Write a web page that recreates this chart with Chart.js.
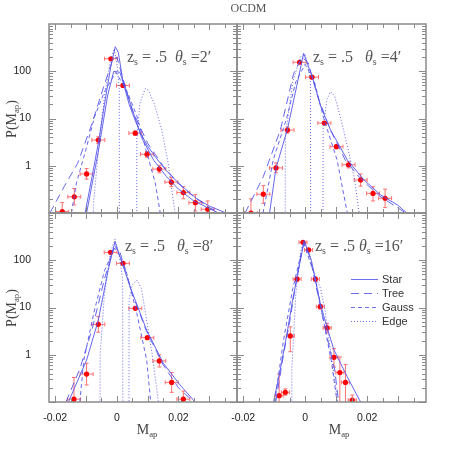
<!DOCTYPE html>
<html>
<head>
<meta charset="utf-8">
<script src="https://cdn.jsdelivr.net/npm/chart.js@4.4.1/dist/chart.umd.min.js"></script>
<style>
body { margin: 0; background: #fff; }
#wrap { position: relative; width: 450px; height: 450px; overflow: hidden; }
canvas { position: absolute; left: 0; top: 0; }
.t { position: absolute; font-family: "Liberation Serif", serif; color: #444; white-space: nowrap; line-height: 1; }
.t sub { font-size: 62%; vertical-align: -0.3em; line-height: 0; }
.ylab { transform: translate(-50%, -50%) rotate(-90deg); font-size: 14px; }
.xlab { transform: translateX(-50%); font-size: 14px; }
.ann { font-size: 16px; color: #555; }
.leg { position: absolute; font-family: "Liberation Sans", sans-serif; font-size: 11px; color: #333; }
</style>
</head>
<body>
<div id="wrap">
  <canvas id="c2" width="450" height="450"></canvas>
  <canvas id="c4" width="450" height="450"></canvas>
  <canvas id="c8" width="450" height="450"></canvas>
  <canvas id="c16" width="450" height="450"></canvas>

  <div class="t" style="left:0;width:497px;text-align:center;top:2px;font-size:12px;color:#555">OCDM</div>
  <div class="t ylab" style="left:12px;top:119px">P(M<sub>ap</sub>)</div>
  <div class="t ylab" style="left:12px;top:308px">P(M<sub>ap</sub>)</div>
  <div class="t xlab" style="left:147px;top:423px">M<sub>ap</sub></div>
  <div class="t xlab" style="left:339px;top:423px">M<sub>ap</sub></div>

  <div class="t ann" style="left:127px;top:49px">z<sub>s</sub> = .5 &nbsp;<i>θ</i><sub>s</sub> =2′</div>
  <div class="t ann" style="left:313px;top:49px">z<sub>s</sub> = .5 &nbsp;&nbsp;<i>θ</i><sub>s</sub> =4′</div>
  <div class="t ann" style="left:125px;top:238px">z<sub>s</sub> = .5 &nbsp;&nbsp;<i>θ</i><sub>s</sub> =8′</div>
  <div class="t ann" style="left:315px;top:238px">z<sub>s</sub> = .5 <i>θ</i><sub>s</sub> =16′</div>

  <svg style="position:absolute;left:351px;top:272px" width="30" height="56">
    <g stroke="rgb(110,110,240)" stroke-width="1">
      <line x1="0" y1="7.5" x2="27" y2="7.5"/>
      <line x1="0" y1="21.5" x2="27" y2="21.5" stroke-dasharray="8,5"/>
      <line x1="0" y1="35.5" x2="27" y2="35.5" stroke-dasharray="4,3"/>
      <line x1="0" y1="49.5" x2="27" y2="49.5" stroke-dasharray="1,2"/>
    </g>
  </svg>
  <div class="leg" style="left:382px;top:273px">Star</div>
  <div class="leg" style="left:382px;top:287px">Tree</div>
  <div class="leg" style="left:382px;top:301px">Gauss</div>
  <div class="leg" style="left:382px;top:315px">Edge</div>
</div>
<script>
// axis ranges and tick labels
const xMin = -0.022, xMax = 0.039;
const yMin = 0.1, yMax = 1000;
const xTickVals = [-0.02, 0, 0.02];
const xTickText = ['-0.02', '0', '0.02'];
const yTickVals = [1, 10, 100];
const yTickText = ['1', '10', '100'];

// theta_s = 2'
const star2X = [-0.0103, -0.008, -0.006, -0.004, -0.002, -0.0005, 0.0005, 0.002, 0.004, 0.006, 0.008, 0.010, 0.013, 0.016, 0.019, 0.022, 0.026, 0.030, 0.0355];
const star2Y = [0.1, 0.6, 3, 20, 120, 330, 250, 60, 20, 9, 4.5, 2.6, 1.4, 0.8, 0.5, 0.33, 0.2, 0.14, 0.1];
const starb2X = [-0.0098, -0.006, -0.003, -0.001, 0.001, 0.004, 0.008, 0.012, 0.016, 0.020, 0.025, 0.033];
const starb2Y = [0.1, 2, 30, 100, 95, 25, 4, 1.3, 0.6, 0.32, 0.18, 0.1];
const tree2X = [-0.0217, -0.0171, -0.0127, -0.0084, -0.0046, -0.0014, 0.0, 0.002, 0.005, 0.01, 0.015, 0.02, 0.025, 0.030, 0.0335];
const tree2Y = [0.1, 0.36, 1.13, 6.7, 40, 173, 200, 70, 15, 3, 1.0, 0.42, 0.22, 0.13, 0.1];
const gauss2X = [-0.0147, -0.0131, -0.0104, -0.0072, -0.004, -0.0003, 0.0034, 0.0066, 0.0098, 0.0125, 0.0141];
const gauss2Y = [0.1, 0.43, 1.8, 10.9, 37, 95, 37, 10.9, 1.8, 0.43, 0.1];
const edge2X = [-0.0077, -0.0076, -0.006, -0.004, -0.002, -0.0008, 0.0002, 0.0008, 0.0009, 0.0064, 0.0065, 0.0075, 0.0092, 0.0102, 0.0121, 0.0146, 0.0167, 0.0189];
const edge2Y = [0.001, 0.15, 2, 30, 180, 300, 120, 40, 0.001, 0.001, 4, 21, 43, 40, 21, 5.7, 1.1, 0.1];
const pts2X = [-0.0177, -0.0138, -0.0098, -0.006, -0.0019, 0.002, 0.006, 0.0098, 0.0138, 0.0177, 0.0216, 0.0255, 0.0295];
const pts2Y = [0.107, 0.22, 0.67, 3.5, 184, 50, 4.9, 1.75, 0.85, 0.45, 0.27, 0.165, 0.12];
const pts2Lo = [0.069, 0.149, 0.52, 2.97, 175, 46.7, 4.45, 1.52, 0.71, 0.36, 0.2, 0.11, 0.08];
const pts2Hi = [0.166, 0.33, 0.87, 4.1, 193, 53.5, 5.4, 2.0, 1.02, 0.56, 0.36, 0.245, 0.18];

// theta_s = 4'
const star4X = [-0.0115, -0.0094, -0.0057, -0.003, -0.0005, 0.0022, 0.005, 0.0082, 0.0136, 0.019, 0.0244, 0.0298, 0.0328];
const star4Y = [0.1, 0.9, 6, 40, 240, 80, 18, 5.7, 1.33, 0.5, 0.24, 0.148, 0.1];
const tree4X = [-0.0194, -0.0135, -0.008, -0.0037, -0.001, 0.001, 0.004, 0.008, 0.013, 0.018, 0.024, 0.029, 0.0325];
const tree4Y = [0.1, 0.59, 5.7, 90, 200, 150, 30, 6, 1.3, 0.52, 0.23, 0.14, 0.1];
const gauss4X = [-0.0136, -0.0103, -0.006, -0.003, 0.0, 0.003, 0.006, 0.0103, 0.0136];
const gauss4Y = [0.1, 1.33, 10, 60, 140, 60, 10, 1.33, 0.1];
const edge4X = [-0.0065, -0.0064, -0.004, -0.0015, 0.0, 0.0012, 0.0017, 0.0018, 0.0057, 0.0058, 0.007, 0.0082, 0.0095, 0.0115, 0.014, 0.016, 0.0174];
const edge4Y = [0.001, 4, 60, 200, 230, 100, 60, 0.001, 0.001, 6, 25, 37, 30, 10, 2, 0.5, 0.1];
const pts4X = [-0.0175, -0.0135, -0.0094, -0.0057, -0.0018, 0.0022, 0.0062, 0.0101, 0.014, 0.0179, 0.0219, 0.0258];
const pts4Y = [0.1, 0.25, 0.9, 5.7, 155, 75, 8.0, 2.53, 1.05, 0.5, 0.26, 0.205];
const pts4Lo = [0.07, 0.16, 0.71, 4.9, 148, 72, 7.6, 2.3, 0.9, 0.37, 0.18, 0.13];
const pts4Hi = [0.2, 0.38, 1.15, 6.6, 162, 78, 8.4, 2.8, 1.22, 0.67, 0.36, 0.32];

// theta_s = 8'
const star8X = [-0.0157, -0.0098, -0.006, -0.0028, -0.0006, 0.0043, 0.0097, 0.0151, 0.0205, 0.0254];
const star8Y = [0.1, 0.77, 5.4, 62, 247, 27.5, 3.3, 0.66, 0.23, 0.1];
const tree8X = [-0.0165, -0.012, -0.008, -0.004, -0.001, 0.001, 0.005, 0.0095, 0.015, 0.02, 0.025];
const tree8Y = [0.1, 0.5, 3.5, 40, 180, 150, 20, 3.3, 0.62, 0.2, 0.1];
const gauss8X = [-0.012, -0.0107, -0.0075, -0.004, -0.0005, 0.003, 0.0065, 0.0097, 0.011];
const gauss8Y = [0.1, 0.77, 7.5, 60, 200, 60, 7.5, 0.77, 0.1];
const edge8X = [-0.0055, -0.0054, -0.004, -0.002, -0.0006, 0.0008, 0.0019, 0.002, 0.0039, 0.004, 0.005, 0.0065, 0.008, 0.0097, 0.0115, 0.0135];
const edge8Y = [0.001, 1, 20, 150, 280, 120, 40, 0.001, 0.001, 15, 30, 38, 25, 5.4, 1, 0.1];
const pts8X = [-0.0139, -0.0098, -0.006, -0.002, 0.002, 0.006, 0.0099, 0.0138, 0.0178, 0.0216];
const pts8Y = [0.115, 0.39, 4.4, 147, 86, 9.6, 2.3, 0.74, 0.26, 0.115];
const pts8Lo = [0.04, 0.23, 3.0, 142, 83, 9.1, 2.17, 0.55, 0.16, 0.08];
const pts8Hi = [0.33, 0.66, 6.5, 152, 89, 10.1, 2.45, 0.99, 0.42, 0.17];

// theta_s = 16'
const star16X = [-0.0102, -0.008, -0.006, -0.004, -0.0003, 0.002, 0.0049, 0.0071, 0.0093, 0.0136, 0.0179];
const star16Y = [0.1, 0.5, 2.5, 15, 260, 100, 12, 3.7, 1.26, 0.34, 0.1];
const tree16X = [-0.0095, -0.007, -0.005, -0.0025, -0.0005, 0.0015, 0.004, 0.007, 0.0095, 0.0108];
const tree16Y = [0.1, 1, 5, 50, 230, 120, 20, 2.5, 0.5, 0.1];
const gauss16X = [-0.0098, -0.007, -0.004, -0.0005, 0.003, 0.006, 0.0085, 0.0103];
const gauss16Y = [0.1, 2, 25, 230, 50, 5, 0.7, 0.1];
const edge16X = [-0.0044, -0.0043, -0.003, -0.0015, -0.0004, 0.001, 0.003, 0.005, 0.0065, 0.008, 0.0095, 0.0105];
const edge16Y = [0.001, 0.5, 20, 150, 260, 150, 50, 25, 8, 1.5, 0.3, 0.1];
const pts16X = [-0.0084, -0.0064, -0.0048, -0.0026, -0.0007, 0.0011, 0.0033, 0.0049, 0.0071, 0.0093, 0.0112, 0.013, 0.0152];
const pts16Y = [0.136, 0.16, 2.5, 40, 240, 165, 40, 10.4, 3.7, 0.88, 0.42, 0.26, 0.11];
const pts16Lo = [0.05, 0.14, 1.16, 36, 230, 158, 36, 9.4, 2.9, 0.55, 0.05, 0.05, 0.08];
const pts16Hi = [0.39, 0.19, 3.9, 44, 250, 172, 44, 11.5, 4.6, 1.35, 0.9, 0.62, 0.14];

const BLUE = 'rgba(85,85,235,0.9)';
const AXIS = '#8a8a8a';

// error bars under the data, frame box and inward ticks on top
const frame = {
  id: 'frame',
  beforeDatasetsDraw(chart, args, o) {
    const { ctx, chartArea: a, scales: { x, y } } = chart;
    ctx.save();
    ctx.beginPath();
    ctx.rect(a.left, a.top, a.width, a.height);
    ctx.clip();
    ctx.strokeStyle = '#ff7070';
    ctx.lineWidth = 1;
    o.px.forEach((v, i) => {
      const cx = x.getPixelForValue(v), cy = y.getPixelForValue(o.py[i]);
      const x0 = x.getPixelForValue(v - o.dx), x1 = x.getPixelForValue(v + o.dx);
      const y0 = y.getPixelForValue(o.lo[i]), y1 = y.getPixelForValue(o.hi[i]);
      ctx.beginPath();
      ctx.moveTo(x0, cy); ctx.lineTo(x1, cy);
      ctx.moveTo(cx, y0); ctx.lineTo(cx, y1);
      ctx.moveTo(x0, cy - 2); ctx.lineTo(x0, cy + 2);
      ctx.moveTo(x1, cy - 2); ctx.lineTo(x1, cy + 2);
      ctx.moveTo(cx - 2, y0); ctx.lineTo(cx + 2, y0);
      ctx.moveTo(cx - 2, y1); ctx.lineTo(cx + 2, y1);
      ctx.stroke();
    });
    ctx.restore();
  },
  afterDraw(chart) {
    const { ctx, chartArea: a, scales: { x, y } } = chart;
    ctx.save();
    ctx.strokeStyle = AXIS;
    ctx.lineWidth = 1.5;
    ctx.strokeRect(a.left, a.top, a.width, a.height);
    ctx.lineWidth = 1;
    ctx.beginPath();
    for (let i = -4; i <= 7; i++) {
      const p = Math.round(x.getPixelForValue(i * 0.005)) + 0.5;
      const len = i % 2 === 0 ? 6 : 4;
      ctx.moveTo(p, a.bottom); ctx.lineTo(p, a.bottom - len);
      ctx.moveTo(p, a.top); ctx.lineTo(p, a.top + len);
    }
    for (let k = -1; k <= 2; k++) {
      for (let m = 1; m <= 9; m++) {
        const v = m * Math.pow(10, k);
        const p = Math.round(y.getPixelForValue(v)) + 0.5;
        const len = m === 1 ? 7 : 4;
        ctx.moveTo(a.left, p); ctx.lineTo(a.left + len, p);
        ctx.moveTo(a.right, p); ctx.lineTo(a.right - len, p);
      }
    }
    ctx.stroke();
    ctx.restore();
  }
};

function pick(vals, text, v) {
  const i = vals.findIndex(t => Math.abs(t - v) < 1e-9);
  return i < 0 ? '' : text[i];
}

function curve(xs, ys, dash) {
  return {
    data: xs.map((v, i) => ({ x: v, y: ys[i] })),
    showLine: true, pointRadius: 0, borderColor: BLUE, borderWidth: 1,
    borderDash: dash, fill: false, tension: 0
  };
}

function panel(id, box, showX, showY, curves, px, py, lo, hi, dx) {
  const W = 40, H = 30;
  const sets = curves.slice();
  sets.push({
    data: px.map((v, i) => ({ x: v, y: py[i] })),
    showLine: false, pointRadius: 2.6, pointStyle: 'circle',
    backgroundColor: '#ff0000', borderColor: '#ff0000', borderWidth: 0
  });
  return new Chart(document.getElementById(id), {
    type: 'scatter',
    data: { datasets: sets },
    options: {
      responsive: false,
      animation: false,
      events: [],
      layout: { padding: { left: box[0] - W, top: box[1], right: 450 - box[2], bottom: 450 - box[3] - H } },
      plugins: {
        legend: { display: false },
        tooltip: { enabled: false },
        frame: { px: px, py: py, lo: lo, hi: hi, dx: dx }
      },
      scales: {
        x: {
          type: 'linear', min: xMin, max: xMax,
          grid: { display: false }, border: { display: false },
          afterBuildTicks: s => { s.ticks = xTickVals.map(v => ({ value: v })); },
          ticks: {
            display: showX, autoSkip: false, maxRotation: 0, padding: 2,
            color: '#222', font: { family: 'Liberation Sans', size: 10.5 },
            callback: v => pick(xTickVals, xTickText, v)
          },
          afterFit: s => { s.height = H; }
        },
        y: {
          type: 'logarithmic', min: yMin, max: yMax,
          grid: { display: false }, border: { display: false },
          afterBuildTicks: s => { s.ticks = yTickVals.map(v => ({ value: v })); },
          ticks: {
            display: showY, autoSkip: false, padding: 10,
            color: '#222', font: { family: 'Liberation Sans', size: 10.5 },
            callback: v => pick(yTickVals, yTickText, v)
          },
          afterFit: s => { s.width = W; }
        }
      }
    },
    plugins: [frame]
  });
}

const SOLID = [], TREE = [8, 5], GAUSS = [4, 3], EDGE = [1, 2];

panel('c2', [49, 24, 237, 213], false, true, [
  curve(star2X, star2Y, SOLID), curve(starb2X, starb2Y, SOLID), curve(tree2X, tree2Y, TREE),
  curve(gauss2X, gauss2Y, GAUSS), curve(edge2X, edge2Y, EDGE)
], pts2X, pts2Y, pts2Lo, pts2Hi, 0.0021);

panel('c4', [237, 24, 426, 213], false, false, [
  curve(star4X, star4Y, SOLID), curve(tree4X, tree4Y, TREE),
  curve(gauss4X, gauss4Y, GAUSS), curve(edge4X, edge4Y, EDGE)
], pts4X, pts4Y, pts4Lo, pts4Hi, 0.0021);

panel('c8', [49, 213, 237, 402], true, true, [
  curve(star8X, star8Y, SOLID), curve(tree8X, tree8Y, TREE),
  curve(gauss8X, gauss8Y, GAUSS), curve(edge8X, edge8Y, EDGE)
], pts8X, pts8Y, pts8Lo, pts8Hi, 0.0021);

panel('c16', [237, 213, 426, 402], true, false, [
  curve(star16X, star16Y, SOLID), curve(tree16X, tree16Y, TREE),
  curve(gauss16X, gauss16Y, GAUSS), curve(edge16X, edge16Y, EDGE)
], pts16X, pts16Y, pts16Lo, pts16Hi, 0.0013);
</script>
</body>
</html>
